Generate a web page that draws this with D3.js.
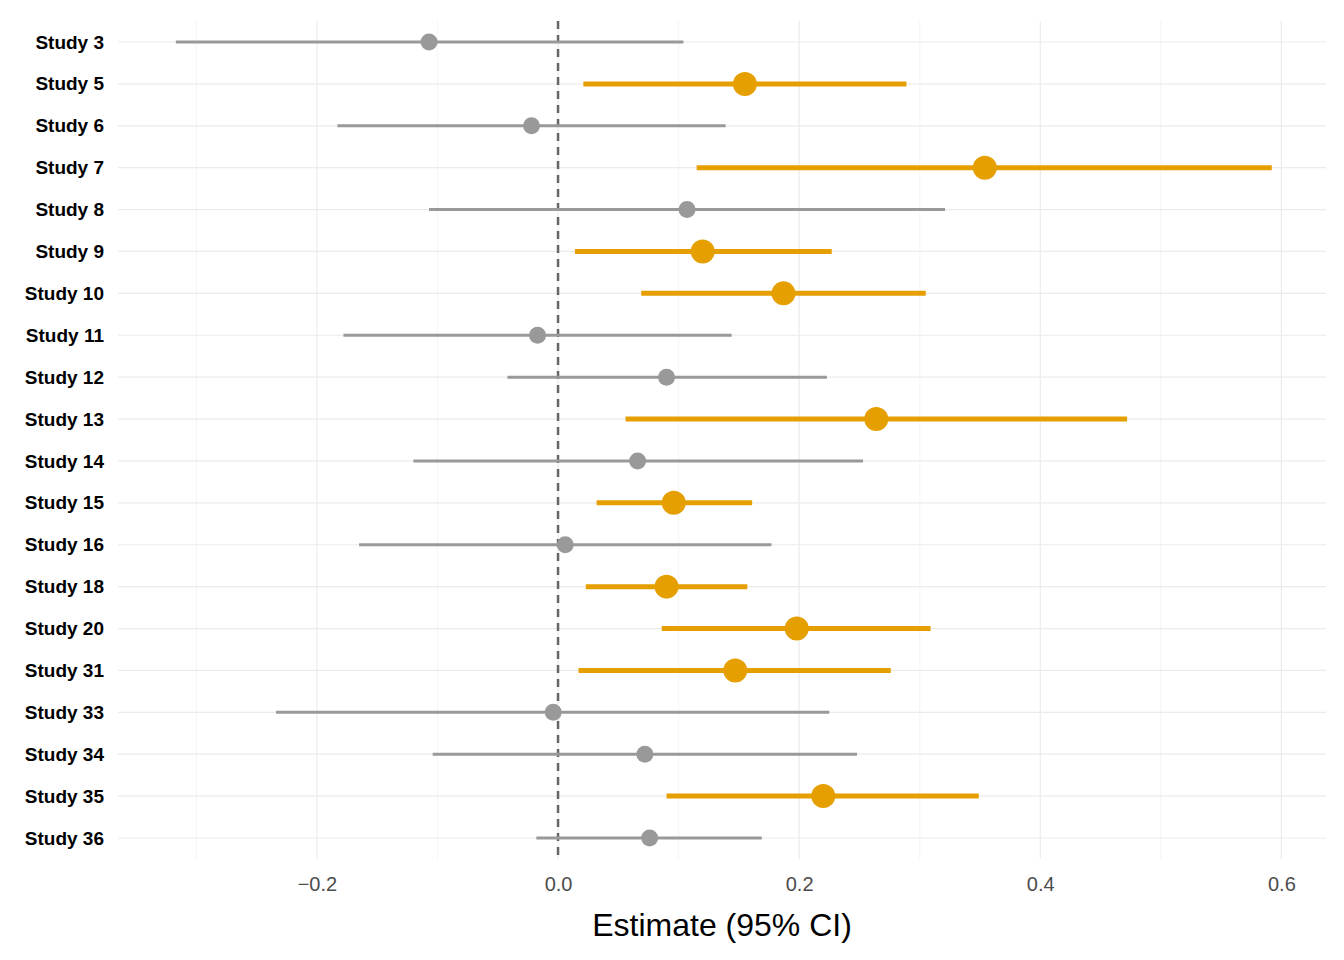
<!DOCTYPE html>
<html><head><meta charset="utf-8">
<script src="https://cdn.jsdelivr.net/npm/d3@7"></script>
<style>body{margin:0;background:#fff}</style>
</head><body>
<svg id="canvas" width="1344" height="960"></svg>
<script>
// study, estimate, lower, upper, significant
let studies = [
  ['Study 3', -0.107, -0.317, 0.104, false],
  ['Study 5', 0.155, 0.021, 0.289, true],
  ['Study 6', -0.022, -0.183, 0.139, false],
  ['Study 7', 0.354, 0.115, 0.592, true],
  ['Study 8', 0.107, -0.107, 0.321, false],
  ['Study 9', 0.120, 0.014, 0.227, true],
  ['Study 10', 0.187, 0.069, 0.305, true],
  ['Study 11', -0.017, -0.178, 0.144, false],
  ['Study 12', 0.090, -0.042, 0.223, false],
  ['Study 13', 0.264, 0.056, 0.472, true],
  ['Study 14', 0.066, -0.120, 0.253, false],
  ['Study 15', 0.096, 0.032, 0.161, true],
  ['Study 16', 0.006, -0.165, 0.177, false],
  ['Study 18', 0.090, 0.023, 0.157, true],
  ['Study 20', 0.198, 0.086, 0.309, true],
  ['Study 31', 0.147, 0.017, 0.276, true],
  ['Study 33', -0.004, -0.234, 0.225, false],
  ['Study 34', 0.072, -0.104, 0.248, false],
  ['Study 35', 0.220, 0.090, 0.349, true],
  ['Study 36', 0.076, -0.018, 0.169, false]
]

let canvas = d3.select('#canvas')
let mLeft = 118, mRight = 1326, mTop = 21, mBottom = 859

let x = d3.scaleLinear().domain([-0.365, 0.637]).range([mLeft, mRight])
let y = d3.scalePoint().domain(studies.map(d => d[0])).range([42, 838])

// grid
canvas.selectAll('.minor').data([-0.3, -0.1, 0.1, 0.3, 0.5]).enter().append('line')
  .attr('x1', d => x(d)).attr('x2', d => x(d)).attr('y1', mTop).attr('y2', mBottom)
  .attr('stroke', '#f2f2f2').attr('stroke-width', 0.8)
canvas.selectAll('.major').data([-0.2, 0, 0.2, 0.4, 0.6]).enter().append('line')
  .attr('x1', d => x(d)).attr('x2', d => x(d)).attr('y1', mTop).attr('y2', mBottom)
  .attr('stroke', '#ebebeb').attr('stroke-width', 1.2)
canvas.selectAll('.hgrid').data(studies).enter().append('line')
  .attr('x1', mLeft).attr('x2', mRight).attr('y1', d => y(d[0])).attr('y2', d => y(d[0]))
  .attr('stroke', '#ebebeb').attr('stroke-width', 1.2)

// zero line
canvas.append('line').attr('x1', x(0)).attr('x2', x(0)).attr('y1', mTop).attr('y2', mBottom)
  .attr('stroke', '#666').attr('stroke-width', 2.5).attr('stroke-dasharray', '8,6')

let rows = canvas.selectAll('.row').data(studies).enter().append('g')
rows.append('line')
  .attr('x1', d => x(d[2])).attr('x2', d => x(d[3]))
  .attr('y1', d => y(d[0])).attr('y2', d => y(d[0]))
  .attr('stroke', d => d[4] ? '#E69F00' : '#999999')
  .attr('stroke-width', d => d[4] ? 5 : 3)
rows.append('circle')
  .attr('cx', d => x(d[1])).attr('cy', d => y(d[0]))
  .attr('r', d => d[4] ? 12 : 8.5)
  .attr('fill', d => d[4] ? '#E69F00' : '#999999')

// axes
let xAxis = canvas.append('g').attr('transform', `translate(0,${mBottom})`)
  .call(d3.axisBottom(x).tickValues([-0.2, 0, 0.2, 0.4, 0.6]).tickFormat(d3.format('.1f')).tickSize(0).tickPadding(18))
xAxis.select('.domain').remove()
xAxis.selectAll('text').attr('font-family', 'Arial, Liberation Sans, sans-serif').attr('font-size', 20).attr('fill', '#4d4d4d')

let yAxis = canvas.append('g').attr('transform', `translate(${mLeft},0)`)
  .call(d3.axisLeft(y).tickSize(0).tickPadding(14))
yAxis.select('.domain').remove()
yAxis.selectAll('text').attr('font-family', 'Arial, Liberation Sans, sans-serif').attr('font-size', 19)
  .attr('font-weight', 'bold').attr('fill', '#000')

canvas.append('text').attr('x', (mLeft + mRight) / 2).attr('y', 936).attr('text-anchor', 'middle')
  .attr('font-family', 'Arial, Liberation Sans, sans-serif').attr('font-size', 32).attr('fill', '#000')
  .text('Estimate (95% CI)')
</script>
</body></html>
